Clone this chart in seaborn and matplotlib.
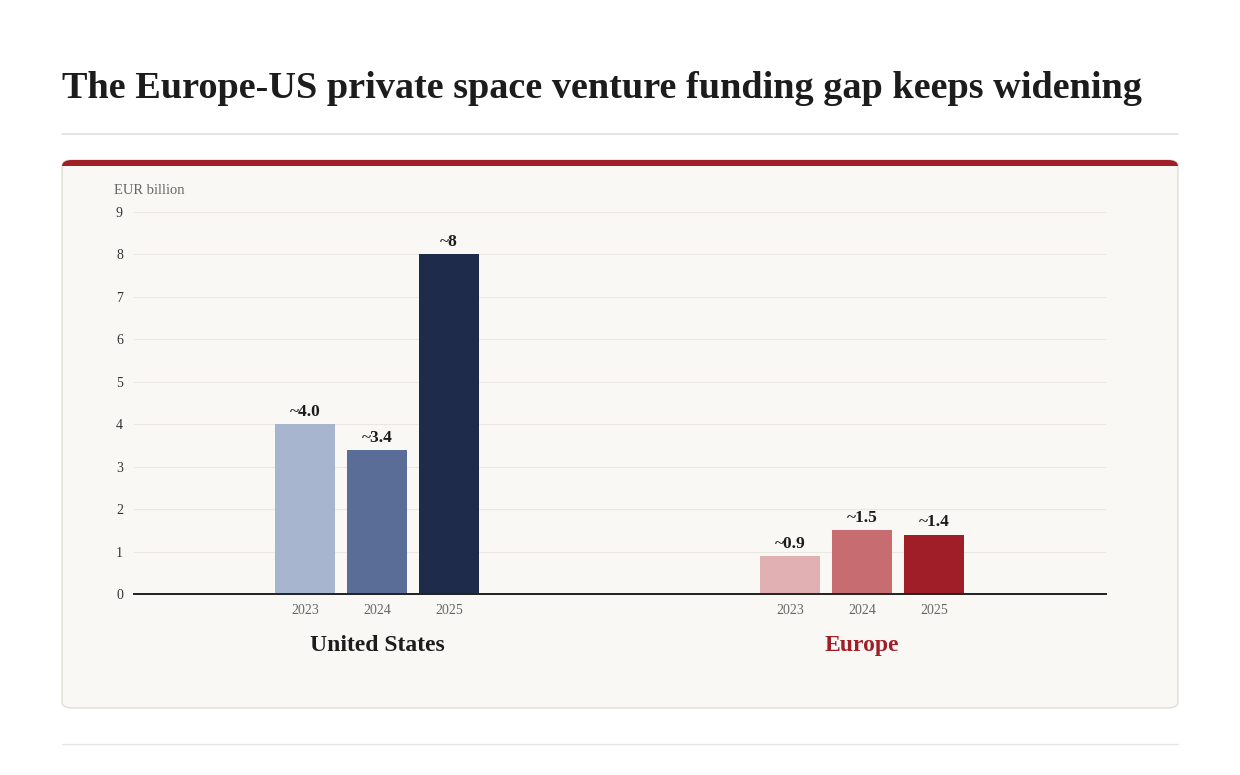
import matplotlib
matplotlib.use("Agg")
import matplotlib.pyplot as plt
import matplotlib.transforms as mtransforms
from matplotlib.patches import FancyBboxPatch, Rectangle
from matplotlib.lines import Line2D
import seaborn as sns
import pandas as pd

# ---- data ----
regions = ["United States", "Europe"]
years = ["2023", "2024", "2025"]
us_values = [4.0, 3.4, 8.0]
eu_values = [0.9, 1.5, 1.4]
us_labels = ["~4.0", "~3.4", "~8"]
eu_labels = ["~0.9", "~1.5", "~1.4"]
y_ticks = [0, 1, 2, 3, 4, 5, 6, 7, 8, 9]

us_colors = ["#a7b5cf", "#5a6d96", "#1e2b4a"]
eu_colors = ["#e1b0b3", "#c76c71", "#a01e28"]
region_label_colors = ["#1c1c1c", "#a01e28"]

df = pd.DataFrame({
    "region": [regions[0]] * 3 + [regions[1]] * 3,
    "year": years * 2,
    "value": us_values + eu_values,
})

sns.set_theme(style="white")
plt.rcParams["font.family"] = ["Liberation Serif", "DejaVu Serif"]

W, H = 1240, 775
fig = plt.figure(figsize=(W / 100, H / 100), dpi=100)
fig.patch.set_facecolor("white")

def fx(px):
    return px / W

def fy(py):
    return 1 - py / H

# Title
fig.text(fx(62), fy(98), "The Europe-US private space venture funding gap keeps widening",
         fontsize=27.5, fontweight="bold", color="#1c1c1c", ha="left", va="baseline")
# Divider lines
fig.add_artist(Line2D([fx(62), fx(1178)], [fy(134), fy(134)], color="#dedede", lw=1.2))
fig.add_artist(Line2D([fx(62), fx(1178)], [fy(744), fy(744)], color="#e6e6e6", lw=1.0))

# Panel
panel = FancyBboxPatch((fx(62), fy(708)), fx(1178) - fx(62), fy(160) - fy(708),
                       boxstyle="round,pad=0,rounding_size=0.008",
                       transform=fig.transFigure, facecolor="#f9f8f5",
                       edgecolor="#e2ded6", lw=1.0, zorder=0)
fig.add_artist(panel)
topbar = Rectangle((fx(62), fy(166)), fx(1178) - fx(62), fy(160) - fy(166),
                   transform=fig.transFigure, facecolor="#a01e28",
                   edgecolor="none", zorder=1)
fig.add_artist(topbar)
topbar.set_clip_path(panel)

fig.text(fx(114), fy(190), "EUR billion", fontsize=10.5, color="#666666", ha="left", va="center")

ax = fig.add_axes([fx(134), fy(594), fx(1106) - fx(134), fy(212) - fy(594)])
ax.set_facecolor("none")

sns.barplot(data=df, x="region", y="value", hue="year", order=regions, hue_order=years,
            palette=us_colors, width=0.445, gap=0.17, legend=False, ax=ax,
            saturation=1, errorbar=None)

ax.set_ylim(0, 9)
ax.set_xlim(-0.501, 1.503)

# recolor bars per region
patches = [p for p in ax.patches if p.get_height() > 0]
patches.sort(key=lambda p: p.get_x())
all_colors = us_colors + eu_colors
all_labels = us_labels + eu_labels
centers = []
for p, c, lab in zip(patches, all_colors, all_labels):
    p.set_facecolor(c)
    p.set_edgecolor("none")
    cx = p.get_x() + p.get_width() / 2
    centers.append(cx)
    ax.annotate(lab, (cx, p.get_height()), xytext=(0, 3), textcoords="offset points",
                ha="center", va="bottom", fontsize=12.5, fontweight="bold", color="#1c1c1c")

ax.set_xticks(centers)
ax.set_xticklabels(years * 2, fontsize=10, color="#666666")
ax.set_yticks(y_ticks)
ax.set_yticklabels([str(t) for t in y_ticks], fontsize=10, color="#333333")
ax.tick_params(axis="both", length=0)
ax.tick_params(axis="x", pad=7.5)
ax.tick_params(axis="y", pad=8)
ax.set_xlabel("")
ax.set_ylabel("")
for s in ["top", "right", "left"]:
    ax.spines[s].set_visible(False)
ax.spines["bottom"].set_color("#222222")
ax.spines["bottom"].set_linewidth(1.4)
ax.yaxis.grid(True, color="#ebe8e2", lw=0.8)
ax.set_axisbelow(True)

trans = mtransforms.blended_transform_factory(ax.transData, ax.transAxes)
for i, (r, col) in enumerate(zip(regions, region_label_colors)):
    ax.text(i, -0.136, r, transform=trans, ha="center", va="center",
            fontsize=17, fontweight="bold", color=col)

fig.savefig("out.png", dpi=100, facecolor="white")
